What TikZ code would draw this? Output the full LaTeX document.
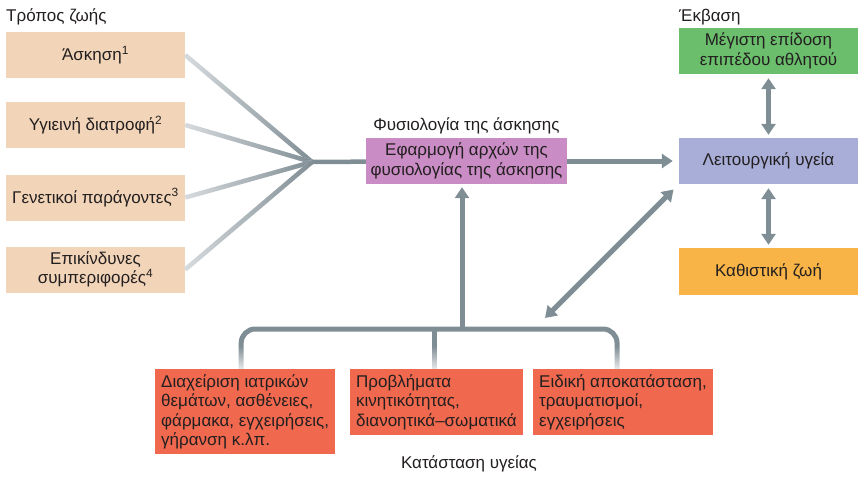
\documentclass[tikz,border=0pt]{standalone}
\usepackage{fontspec}
\setmainfont{Liberation Sans}
\usetikzlibrary{arrows.meta,positioning,fadings}

\definecolor{ink}{HTML}{231F20}
\definecolor{peach}{HTML}{F2D5B8}
\definecolor{orchid}{HTML}{C98CC4}
\definecolor{lavender}{HTML}{A8AED8}
\definecolor{leaf}{HTML}{6BBE6C}
\definecolor{amber}{HTML}{F8B447}
\definecolor{coral}{HTML}{F0694E}
\definecolor{steel}{HTML}{7F8D94}
\definecolor{mist}{HTML}{D8DCDF}

\begin{document}
\begin{tikzpicture}[x=1pt,y=-1pt,>={Triangle[width=14pt,length=11pt]},
  every node/.style={font=\fontsize{17}{19.5}\selectfont,text=ink},
  lifebox/.style={fill=peach,minimum width=179pt,minimum height=46pt,align=center,inner sep=0pt},
  outbox/.style={minimum width=179pt,minimum height=46pt,align=center,inner sep=0pt},
  statebox/.style={fill=coral,anchor=north west,align=left,inner xsep=6pt,inner ysep=5pt},
  arrow/.style={draw=steel,line width=5pt},
  fanlight/.style={draw=mist,line width=4.5pt},
  fandark/.style={draw=steel,line width=4.5pt}]
  \useasboundingbox (0,0) rectangle (866,476);

  % lifestyle
  \node[anchor=west,inner sep=0pt] (lifelbl) at (6,17) {Τρόπος ζωής};
  \node[lifebox] (ex) at (95.5,55) {Άσκηση\textsuperscript{1}};
  \node[lifebox] (diet) at (95.5,125) {Υγιεινή διατροφή\textsuperscript{2}};
  \node[lifebox] (gen) at (95.5,197.5) {Γενετικοί παράγοντες\textsuperscript{3}};
  \node[lifebox] (risk) at (95.5,269.5) {Επικίνδυνες\\συμπεριφορές\textsuperscript{4}};
  \coordinate (hub) at (312,162);
  \foreach \b in {ex,diet,gen,risk} {
    \draw[fanlight] (\b.east) -- (hub);
    \draw[fandark,path fading=west] (\b.east) -- (hub);
  }

  % exercise physiology
  \node[fill=orchid,minimum width=201pt,minimum height=46pt,align=center,inner sep=0pt] (phys) at (466.5,161)
    {Εφαρμογή αρχών της\\φυσιολογίας της άσκησης};
  \node[above=0pt of phys] (physlbl) {Φυσιολογία της άσκησης};
  \draw[fandark] (hub) -- (phys);

  % outcome
  \node[anchor=west,inner sep=0pt] (outlbl) at (679,17) {Έκβαση};
  \node[outbox,fill=leaf] (perf) at (768.5,51) {Μέγιστη επίδοση\\επιπέδου αθλητού};
  \node[outbox,fill=lavender] (health) at (768.5,161) {Λειτουργική υγεία};
  \node[outbox,fill=amber,minimum height=47pt] (sed) at (768.5,271.5) {Καθιστική ζωή};
  \draw[arrow,<->,shorten <=4pt,shorten >=3pt] (perf) -- (health);
  \draw[arrow,<->,shorten <=4pt,shorten >=3pt] (health) -- (sed);
  \draw[arrow,->,shorten >=6pt] (phys) -- (health);

  % health status
  \node[statebox] (b1) at (155,369)
    {Διαχείριση ιατρικών\\θεμάτων, ασθένειες,\\φάρμακα, εγχειρήσεις,\\γήρανση κ.λπ.};
  \node[statebox] (b2) at (350,369)
    {Προβλήματα\\κινητικότητας,\\διανοητικά–σωματικά};
  \node[statebox] (b3) at (533,369)
    {Ειδική αποκατάσταση,\\τραυματισμοί,\\εγχειρήσεις};
  \node (statelbl) at (469,464) {Κατάσταση υγείας};

  \coordinate (bar) at (462,329);
  \coordinate (diagfoot) at (545,318);
  \draw[arrow,rounded corners=14pt] ([xshift=-4pt]b1.north) |- (bar) -| ([xshift=-6pt]b3.north);
  \draw[arrow] ([xshift=-1.5pt]b2.north) -- ([xshift=-1.5pt]b2.north |- bar);
  \fill[white,path fading=north,fill opacity=.8] (232,346) rectangle (628,368.5);
  \draw[arrow,->,shorten >=3pt] (bar) -- (bar |- phys.south);
  \draw[arrow,<->,shorten >=7.5pt] (diagfoot) -- (health.south west);
\end{tikzpicture}
\end{document}
